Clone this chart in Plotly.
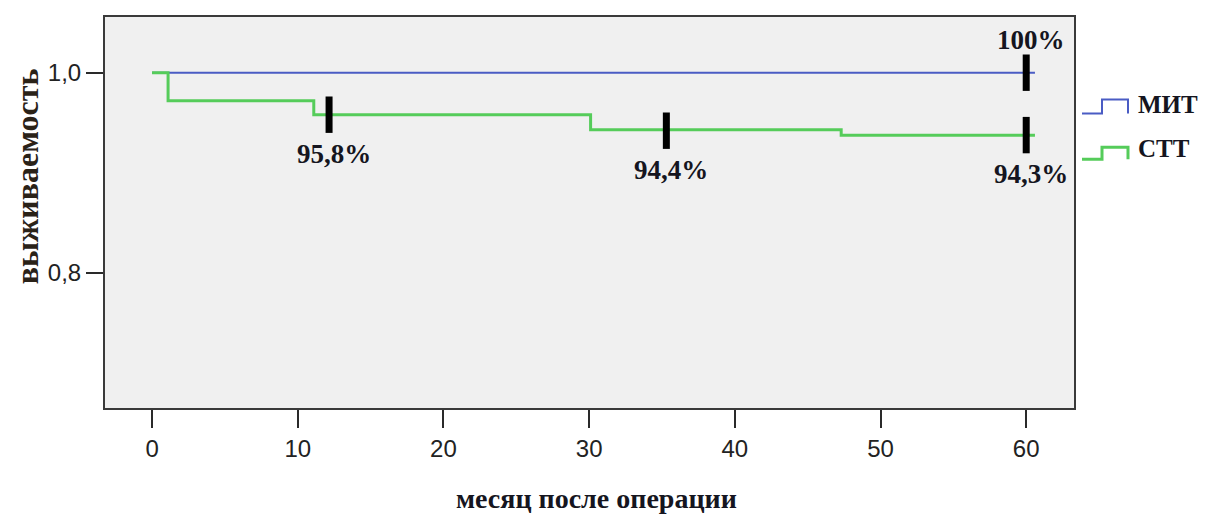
import plotly.graph_objects as go

# ---- data ----
mit_time = [0, 60.6]
mit_surv = [1.0, 1.0]

stt_time = [0, 1.1, 11.1, 30.1, 47.3, 60.6]
stt_surv = [1.0, 0.972, 0.958, 0.943, 0.9375, 0.9375]

cens_time = [12.15, 35.3, 60.0, 60.0]
cens_surv = [0.958, 0.942, 1.0, 0.9376]
cens_label = ["95,8%", "94,4%", "100%", "94,3%"]
cens_label_side = ["below", "below", "above", "below"]

x_ticks = [0, 10, 20, 30, 40, 50, 60]
y_ticks = [0.8, 1.0]
y_tick_text = ["0,8", "1,0"]

series_names = ["МИТ", "СТТ"]
x_title = "месяц после операции"
y_title = "выживаемость"

BLUE = "#4a5cc4"
GREEN = "#55cc5a"
TXT = "#151520"
SERIF = "Liberation Serif, Times New Roman, serif"
SANS = "Liberation Sans, Arial, sans-serif"

OFF = 8  # page body margin
FW, FH = 1206 - OFF, 517 - OFF

fig = go.Figure()
fig.add_trace(go.Scatter(x=mit_time, y=mit_surv, mode="lines", line=dict(color=BLUE, width=2, shape="hv"),
                         name=series_names[0], showlegend=False, hoverinfo="skip"))
fig.add_trace(go.Scatter(x=stt_time, y=stt_surv, mode="lines", line=dict(color=GREEN, width=3, shape="hv"),
                         name=series_names[1], showlegend=False, hoverinfo="skip"))
fig.add_trace(go.Scatter(x=cens_time, y=cens_surv, mode="markers",
                         marker=dict(symbol="line-ns", size=26, color="black", line=dict(color="black", width=7)),
                         showlegend=False, hoverinfo="skip"))

annotations = []
for t, s, lab, side in zip(cens_time, cens_surv, cens_label, cens_label_side):
    annotations.append(dict(x=t, y=s, xref="x", yref="y", text=lab, showarrow=False,
                            xshift=5, yshift=(-39 if side == "below" else 33),
                            font=dict(family=SERIF, size=27, color=TXT, weight="bold")))

# plot-area pixel bounds in the screenshot
W0, W1, H0, H1 = 105, 1074, 15, 408
def px(xpix):
    return (xpix - W0) / (W1 - W0)
def py(ypix):
    return (H1 - ypix) / (H1 - H0)

annotations.append(dict(x=px(596), y=py(499), xref="paper", yref="paper", text=x_title, showarrow=False,
                        xanchor="center", yanchor="middle",
                        font=dict(family=SERIF, size=28, color=TXT, weight="bold")))
annotations.append(dict(x=px(27), y=py(175), xref="paper", yref="paper", text=y_title, showarrow=False,
                        xanchor="center", yanchor="middle",
                        textangle=-90, font=dict(family=SERIF, size=32, color="#2a2218", weight="bold")))

# custom legend
shapes = []
legend_rows = [(series_names[0], BLUE, 2, 112, 98, 103), (series_names[1], GREEN, 3, 158, 146, 147)]
for name, col, lw, ylow, yhigh, ytext in legend_rows:
    path = "M {},{} L {},{} L {},{} L {},{} L {},{}".format(
        px(1082), py(ylow), px(1102), py(ylow), px(1102), py(yhigh), px(1128), py(yhigh), px(1128), py(ylow))
    shapes.append(dict(type="path", path=path, xref="paper", yref="paper", line=dict(color=col, width=lw)))
    annotations.append(dict(x=px(1136), y=py(ytext), xref="paper", yref="paper", text=name, showarrow=False,
                            xanchor="left", yanchor="middle",
                            font=dict(family=SERIF, size=25, color=TXT, weight="bold")))

fig.update_layout(
    width=FW, height=FH,
    margin=dict(l=W0 - OFF, r=FW - (W1 - OFF), t=H0 - OFF, b=FH - (H1 - OFF)),
    paper_bgcolor="white", plot_bgcolor="#f0f0f0",
    annotations=annotations, shapes=shapes,
    showlegend=False,
)
fig.update_xaxes(range=[-3.23, 63.28], tickvals=x_ticks, showgrid=False, zeroline=False,
                 showline=True, mirror=True, linecolor="#3a3a3a", linewidth=2,
                 ticks="outside", ticklen=18, tickwidth=2, tickcolor="#2a2a2a",
                 tickfont=dict(family=SANS, size=24, color="#222"))
fig.update_yaxes(range=[0.6647, 1.0557], tickvals=y_ticks, ticktext=y_tick_text, showgrid=False, zeroline=False,
                 showline=True, mirror=True, linecolor="#3a3a3a", linewidth=2,
                 ticks="outside", ticklen=17, tickwidth=2, tickcolor="#2a2a2a",
                 tickfont=dict(family=SANS, size=24, color="#222"))

fig.write_html("out.html")
